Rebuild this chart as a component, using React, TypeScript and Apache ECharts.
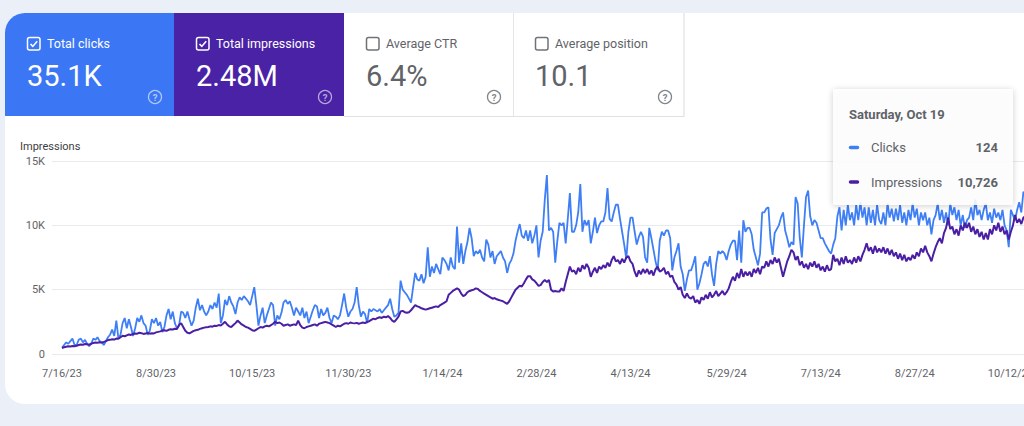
import React, { useEffect, useRef } from "react";
import * as echarts from "echarts";

// ---------- data ----------
const START_UTC = Date.UTC(2023, 6, 16); // 7/16/23, first day of the series
const DAY_MS = 86400000;

const TICK_LABELS = ["7/16/23", "8/30/23", "10/15/23", "11/30/23", "1/14/24", "2/28/24", "4/13/24", "5/29/24", "7/13/24", "8/27/24", "10/12/24"];

const Y_TICKS = [0, 5000, 10000, 15000];
const Y_TICK_LABELS = ["0", "5K", "10K", "15K"];
const Y_AXIS_NAME = "Impressions";

// daily clicks (one row per week, Sun..Sat)
const CLICKS = [
  5, 7, 9, 8, 10, 12, 7,
  7, 11, 12, 9, 11, 8, 6,
  8, 12, 11, 13, 10, 9, 7,
  10, 13, 15, 19, 14, 26, 12,
  15, 24, 28, 20, 27, 21, 14,
  20, 28, 25, 30, 24, 22, 15,
  18, 27, 24, 28, 22, 25, 17,
  21, 30, 35, 27, 33, 24, 20,
  22, 33, 32, 28, 33, 27, 22,
  26, 36, 43, 34, 38, 33, 30,
  33, 38, 35, 40, 36, 47, 24,
  30, 42, 38, 45, 40, 37, 31,
  40, 44, 42, 45, 43, 41, 38,
  45, 52, 38, 22, 30, 36, 24,
  30, 35, 40, 38, 22, 30, 27,
  32, 40, 42, 39, 41, 36, 30,
  36, 33, 30, 36, 28, 33, 24,
  29, 34, 38, 37, 28, 35, 30,
  32, 36, 28, 24, 30, 29, 27,
  30, 38, 47, 36, 29, 33, 35,
  40, 52, 38, 29, 33, 31, 24,
  35, 33, 35, 34, 33, 35, 32,
  34, 36, 38, 43, 35, 29, 30,
  32, 57, 50, 48, 46, 43, 40,
  52, 63, 58, 57, 62, 55, 60,
  83, 60, 68, 63, 70, 66, 62,
  75, 73, 70, 65, 75, 68, 66,
  99, 71, 86, 70, 80, 87, 98,
  90, 76, 80, 78, 81, 75, 72,
  89, 85, 75, 80, 70, 76, 78,
  80, 75, 72, 63, 70, 73, 78,
  88, 95, 101, 92, 90, 96, 88,
  96, 86, 92, 100, 75, 88, 95,
  120, 139, 96, 98, 95, 71, 88,
  102, 100, 102, 86, 105, 125, 95,
  95, 100, 110, 132, 95, 104, 100,
  104, 86, 95, 106, 94, 100, 103,
  103, 110, 129, 105, 103, 110, 116,
  116, 105, 95, 85, 74, 95, 106,
  106, 95, 85, 91, 95, 91, 75,
  71, 98, 90, 81, 72, 65, 88,
  95, 92, 96, 96, 90, 65, 75,
  80, 86, 68, 62, 49, 58, 65,
  65, 70, 76, 50, 55, 62, 70,
  72, 68, 76, 62, 53, 70, 80,
  78, 80, 78, 73, 80, 85, 88,
  88, 73, 96, 71, 104, 95, 98,
  98, 93, 81, 75, 69, 78, 110,
  110, 113, 114, 89, 77, 94, 97,
  100, 106, 110, 96, 90, 83, 87,
  85, 122, 117, 90, 75, 100, 122,
  127, 107, 100, 104, 102, 96, 90,
  90, 86, 83, 80, 78, 85, 90,
  107, 114, 96, 112, 100, 116, 104,
  110, 100, 116, 104, 118, 106, 114,
  100, 114, 102, 112, 100, 116, 104,
  101, 110, 100, 117, 106, 113, 103,
  113, 104, 116, 102, 110, 100, 112,
  104, 117, 106, 113, 100, 110, 104,
  110, 100, 106, 93, 104, 108, 117,
  104, 112, 102, 110, 100, 117, 108,
  114, 104, 112, 100, 108, 98, 104,
  106, 114, 104, 120, 108, 112, 104,
  112, 117, 104, 110, 102, 113, 106,
  110, 104, 112, 100, 96, 83, 112,
  108, 104, 112, 118, 110, 126, 124,
];

// daily impressions (one row per week, Sun..Sat)
const IMPRESSIONS = [
  470, 520, 560, 600, 580, 620, 600,
  640, 700, 740, 720, 780, 760, 720,
  800, 860, 900, 880, 920, 900, 940,
  1000, 1080, 1100, 1150, 1120, 1200, 1180,
  1300, 1420, 1380, 1450, 1520, 1480, 1560,
  1600, 1580, 1650, 1620, 1560, 1600, 1640,
  1580, 1620, 1600, 1680, 1720, 1760, 1820,
  1850, 1800, 1880, 1920, 1900, 1960, 1950,
  2250, 2400, 2100, 1800, 1650, 1600, 1700,
  1800, 1850, 1880, 1950, 2000, 2050, 2080,
  2100, 2150, 2120, 2200, 2180, 2250, 2220,
  2350, 2500, 2300, 2150, 2100, 2250, 2400,
  2600, 2450, 2300, 2200, 2100, 2050, 1950,
  1850, 1800, 1900, 2000, 2100, 2050, 2150,
  2200, 2150, 2250, 2350, 2500, 2400, 2450,
  2350, 2200, 2250, 2300, 2200, 2250, 2300,
  2250, 2600, 2250, 2050, 2000, 2100, 2150,
  2200, 2250, 2300, 2200, 2350, 2400, 2450,
  2500, 2450, 2400, 2300, 2200, 2100, 2200,
  2150, 2250, 2350, 2400, 2350, 2450, 2400,
  2380, 2420, 2350, 2400, 2450, 2400, 2500,
  2550, 2650, 2750, 2700, 2800, 2850, 2800,
  2900, 2850, 2950, 2800, 2600, 2500, 2700,
  2900, 3300, 3350, 3250, 3200, 3250, 3400,
  3600, 3800, 3700, 3650, 3550, 3500, 3450,
  3500, 3550, 3600, 3650, 3700, 3650, 3800,
  3900, 4000, 4100, 4600, 4750, 4900, 5000,
  5100, 5000, 4700, 4500, 4600, 4800, 4900,
  4950, 5000, 5100, 5050, 4900, 4800, 4700,
  4600, 4500, 4400, 4300, 4350, 4250, 4200,
  4150, 4100, 4000, 3900, 4100, 4400, 4700,
  5000, 5150, 5300, 5250, 5500, 5800, 6050,
  6050, 5800, 5700, 5500, 5300, 5350, 5600,
  5750, 5600, 5750, 5000, 4850, 4900, 4850,
  4850, 5100, 4900, 5600, 6200, 6800, 6400,
  6500, 6200, 6700, 6400, 6900, 6600, 7000,
  6700, 6000, 6400, 6700, 6300, 6800, 6600,
  6900, 6700, 7100, 6800, 7300, 7600, 7200,
  7300, 7000, 7400, 7100, 7500, 7600, 7200,
  7000, 6400, 6000, 6500, 6200, 6600, 6300,
  6600, 6200, 6500, 6100, 6600, 6800, 6400,
  6500, 6700, 6200, 6400, 6000, 6100, 5600,
  5400, 5000, 5200, 4600, 4350, 4700, 4400,
  4300, 4500, 4000, 4200, 3900, 4400, 4200,
  4600, 4300, 4800, 4400, 4600, 4900, 4500,
  4700, 4900, 4600, 4800, 5100, 5600, 6000,
  5700, 6300, 5900, 6600, 6000, 6400, 6100,
  6400, 6000, 6600, 6300, 6700, 6200, 6800,
  6700, 7200, 6800, 7300, 7000, 7500, 7100,
  7400, 6700, 6000, 6600, 7200, 7600, 8100,
  7900, 7300, 7600, 6900, 7200, 6700, 7000,
  6600, 7100, 6800, 7200, 6700, 7000, 6500,
  6800, 6400, 6900, 6500, 6600, 7700, 7200,
  7400, 6900, 7500, 7000, 7600, 7100, 7300,
  7000, 7500, 7100, 7600, 7200, 7700, 8100,
  8600, 8000, 8300, 7800, 8400, 7900, 8200,
  7900, 8300, 7800, 8200, 7700, 8100, 7600,
  7900, 7400, 7800, 7300, 7700, 7200, 7500,
  7300, 7700, 7400, 7900, 7600, 8200, 7900,
  8400, 7900, 7600, 7200, 7800, 8300, 8700,
  9000, 8600, 9400, 9800, 10600, 9700, 9900,
  9300, 9700, 9200, 10000, 9600, 10200, 9800,
  10200, 9500, 9900, 9300, 9700, 9100, 9500,
  8900, 9400, 8900, 9700, 9300, 10000, 9600,
  10200, 9500, 9900, 9300, 9600, 8900, 9500,
  10000, 10800, 10200, 10500, 10100, 10600, 10726,
];

const METRIC_LABELS = ["Total clicks", "Total impressions", "Average CTR", "Average position"];
const METRIC_VALUES = ["35.1K", "2.48M", "6.4%", "10.1"];
const METRIC_CHECKED = [true, true, false, false];
const SERIES_NAMES = ["Clicks", "Impressions"];

// ---------- styles ----------
const FONT = 'Roboto, "Noto Sans", sans-serif';
const BLUE_TILE = "#3B76F5";
const PURPLE_TILE = "#4A22A6";
const BLUE_LINE = "#3F7FF6";
const PURPLE_LINE = "#4A1FA3";
const GRAY_TEXT = "#5f6368";
const TILE_FILLS = [BLUE_TILE, PURPLE_TILE, null, null];
const TILE_X = [5, 174, 344, 513];
const TILE_W = [169, 170, 169, 171];

const WEEKDAYS = ["Sunday", "Monday", "Tuesday", "Wednesday", "Thursday", "Friday", "Saturday"];
const MONTHS = ["Jan", "Feb", "Mar", "Apr", "May", "Jun", "Jul", "Aug", "Sep", "Oct", "Nov", "Dec"];

function labelToDay(label: string): number {
  const [m, d, y] = label.split("/").map(Number);
  return Math.round((Date.UTC(2000 + y, m - 1, d) - START_UTC) / DAY_MS);
}

function txt(text: string, x: number, y: number, fill: string, font: string, align = "left", z?: number) {
  const el: any = {
    type: "text",
    style: { text, x, y, fill, font, align, verticalAlign: "middle", textAlign: align, textVerticalAlign: "middle" },
  };
  if (z !== undefined) el.z = z;
  return el;
}

function buildOption() {
  const tickDays = TICK_LABELS.map(labelToDay);
  const lastIdx = CLICKS.length - 1;
  const lastDate = new Date(START_UTC + lastIdx * DAY_MS);
  const tipTitle = `${WEEKDAYS[lastDate.getUTCDay()]}, ${MONTHS[lastDate.getUTCMonth()]} ${lastDate.getUTCDate()}`;
  const tipValues = [CLICKS[lastIdx].toLocaleString("en-US"), IMPRESSIONS[lastIdx].toLocaleString("en-US")];

  const graphics: any[] = [];
  METRIC_LABELS.forEach((label, i) => {
    const fill = TILE_FILLS[i];
    const x0 = TILE_X[i];
    const colored = !!fill;
    const fg = colored ? "#ffffff" : GRAY_TEXT;
    const iconColor = colored ? "rgba(255,255,255,0.6)" : "#80868b";
    if (fill) {
      graphics.push({
        type: "rect",
        shape: { x: x0, y: 13, width: TILE_W[i], height: 103, r: i === 0 ? [20, 0, 0, 0] : 0 },
        style: { fill },
      });
    }
    const cbx = x0 + 22;
    graphics.push({
      type: "rect",
      shape: { x: cbx + 0.5, y: 37.5, width: 12.5, height: 12.5, r: 2 },
      style: { fill: "none", stroke: colored ? "#ffffff" : "#6f7378", lineWidth: 1.5 },
    });
    if (METRIC_CHECKED[i]) {
      graphics.push({
        type: "polyline",
        shape: { points: [[cbx + 3.5, 44], [cbx + 5.8, 46.4], [cbx + 10.2, 41.2]] },
        style: { fill: "none", stroke: "#ffffff", lineWidth: 1.6 },
      });
    }
    graphics.push(txt(label, cbx + 20, 43.5, fg, `12.5px ${FONT}`));
    graphics.push(txt(METRIC_VALUES[i], cbx, 75.5, fg, `29px ${FONT}`));
    const hx = x0 + TILE_W[i] - 19;
    graphics.push({
      type: "circle",
      shape: { cx: hx, cy: 97, r: 6.5 },
      style: { fill: "none", stroke: iconColor, lineWidth: 1.3 },
    });
    graphics.push(txt("?", hx, 97.5, iconColor, `bold 9.5px ${FONT}`, "center"));
  });
  // borders of the white tiles
  graphics.push({ type: "line", shape: { x1: 513.5, y1: 13, x2: 513.5, y2: 116 }, style: { stroke: "#e3e5e8", lineWidth: 1 } });
  graphics.push({ type: "line", shape: { x1: 684, y1: 13, x2: 684, y2: 117 }, style: { stroke: "#dfe1e5", lineWidth: 1.2 } });
  graphics.push({ type: "line", shape: { x1: 344, y1: 116.5, x2: 684, y2: 116.5 }, style: { stroke: "#dfe1e5", lineWidth: 1.2 } });

  // y-axis title
  graphics.push(txt(Y_AXIS_NAME, 20, 146, "#3c4043", `11px ${FONT}`));

  // tooltip
  const tx = 833, ty = 89, tw = 180, th = 116;
  graphics.push({
    type: "rect",
    z: 100,
    shape: { x: tx, y: ty, width: tw, height: th, r: 2 },
    style: { fill: "rgba(255,255,255,0.86)", shadowBlur: 6, shadowColor: "rgba(0,0,0,0.22)", shadowOffsetY: 1 },
  });
  graphics.push(txt(tipTitle, tx + 16, ty + 25, GRAY_TEXT, `bold 13px ${FONT}`, "left", 101));
  [BLUE_LINE, PURPLE_LINE].forEach((c, i) => {
    const ry = ty + 58.5 + i * 34.5;
    graphics.push({ type: "line", z: 101, shape: { x1: tx + 17.5, y1: ry, x2: tx + 24.5, y2: ry }, style: { stroke: c, lineWidth: 3.5, lineCap: "round" } });
    graphics.push(txt(SERIES_NAMES[i], tx + 38, ry, GRAY_TEXT, `13px ${FONT}`, "left", 101));
    graphics.push(txt(tipValues[i], tx + 165, ry, GRAY_TEXT, `bold 13px ${FONT}`, "right", 101));
  });

  const pxPerDay = 2.09;
  const minDay = -10 / pxPerDay;
  const maxDay = 480;

  return {
    animation: false,
    backgroundColor: "transparent",
    textStyle: { fontFamily: FONT },
    grid: { left: 52, top: 161, width: (maxDay - minDay) * pxPerDay, height: 193, containLabel: false },
    xAxis: {
      type: "value",
      min: minDay,
      max: maxDay,
      axisLine: { show: false },
      axisTick: { show: false },
      splitLine: { show: false },
      axisLabel: {
        customValues: tickDays,
        color: GRAY_TEXT,
        fontSize: 11,
        fontFamily: FONT,
        margin: 14,
        formatter: (v: number) => {
          const k = tickDays.indexOf(Math.round(v));
          return k >= 0 ? TICK_LABELS[k] : "";
        },
      },
    },
    yAxis: [
      {
        type: "value",
        min: Y_TICKS[0],
        max: Y_TICKS[Y_TICKS.length - 1],
        interval: Y_TICKS[1] - Y_TICKS[0],
        axisLine: { show: false },
        axisTick: { show: false },
        axisLabel: {
          color: GRAY_TEXT,
          fontSize: 11,
          fontFamily: FONT,
          margin: 7,
          formatter: (v: number) => {
            const k = Y_TICKS.indexOf(v);
            return k >= 0 ? Y_TICK_LABELS[k] : "";
          },
        },
        splitLine: { show: true, lineStyle: { color: "#e8eaed", width: 1 } },
      },
      {
        type: "value",
        min: 0,
        max: 150,
        interval: 50,
        axisLine: { show: false },
        axisTick: { show: false },
        axisLabel: { show: false },
        splitLine: { show: false },
      },
    ],
    series: [
      {
        name: SERIES_NAMES[0],
        type: "line",
        yAxisIndex: 1,
        data: CLICKS.map((v, i) => [i, v]),
        showSymbol: false,
        silent: true,
        z: 2,
        lineStyle: { color: BLUE_LINE, width: 1.8 },
        itemStyle: { color: BLUE_LINE },
      },
      {
        name: SERIES_NAMES[1],
        type: "line",
        yAxisIndex: 0,
        data: IMPRESSIONS.map((v, i) => [i, v]),
        showSymbol: false,
        silent: true,
        z: 3,
        lineStyle: { color: PURPLE_LINE, width: 2 },
        itemStyle: { color: PURPLE_LINE },
      },
    ],
    graphic: { elements: graphics },
  };
}

export default function App() {
  const ref = useRef<HTMLDivElement>(null);
  useEffect(() => {
    if (!ref.current) return;
    const chart = echarts.init(ref.current, null, { renderer: "svg" });
    chart.setOption(buildOption() as any);
    return () => chart.dispose();
  }, []);
  return (
    <div style={{ position: "fixed", left: 0, top: 0, width: 1024, height: 426, overflow: "hidden", background: "#EBEFF8" }}>
      <div style={{ position: "absolute", left: 5, top: 13, width: 1150, height: 391, background: "#ffffff", borderRadius: "20px 0 0 20px" }} />
      <div ref={ref} style={{ position: "absolute", left: 0, top: 0, width: 1100, height: 426 }} />
    </div>
  );
}
